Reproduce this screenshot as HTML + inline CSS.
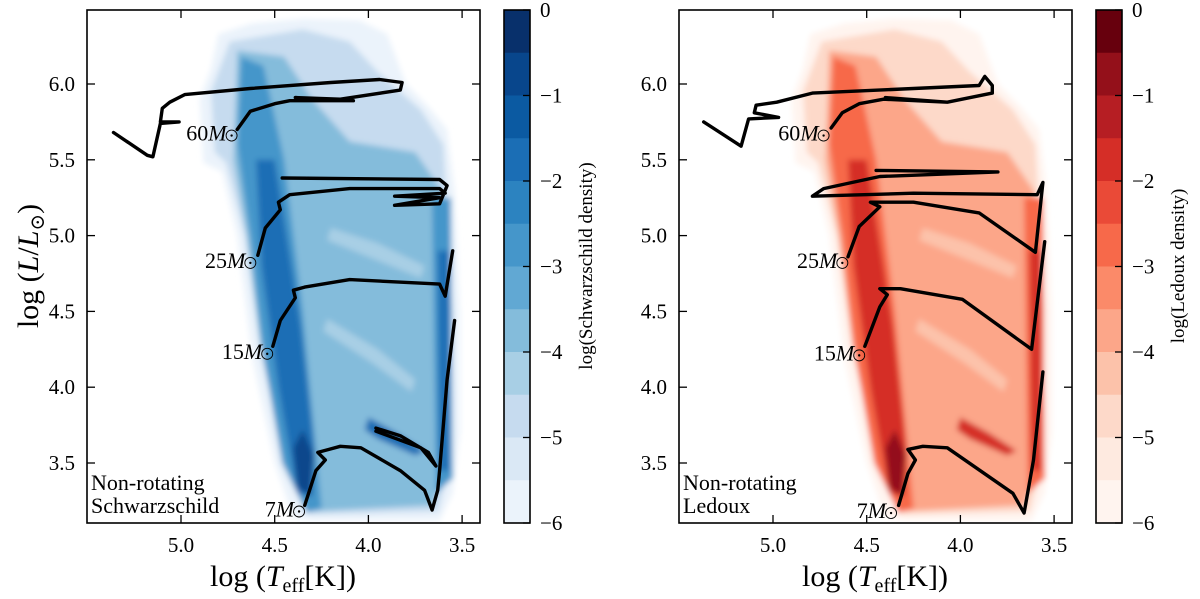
<!DOCTYPE html>
<html><head><meta charset="utf-8"><style>
html,body{margin:0;padding:0;background:#fff;}
svg{display:block;font-family:"Liberation Serif","DejaVu Serif",serif;}
</style></head><body>
<svg id="fig" width="1200" height="599" viewBox="0 0 1200 599" xmlns="http://www.w3.org/2000/svg">
<defs>
<filter id="blur" x="-10%" y="-10%" width="120%" height="120%"><feGaussianBlur stdDeviation="3"/></filter>
<clipPath id="clipL"><rect x="87" y="10" width="393" height="513"/></clipPath>
<clipPath id="clipR"><rect x="679" y="10" width="393" height="513"/></clipPath>
</defs>
</svg>
<script>
// ---- data ----
const xTicks = [5.0, 4.5, 4.0, 3.5];
const xTickLabels = ["5.0", "4.5", "4.0", "3.5"];
const yTicks = [3.5, 4.0, 4.5, 5.0, 5.5, 6.0];
const yTickLabels = ["3.5", "4.0", "4.5", "5.0", "5.5", "6.0"];
const cbTicks = [0, -1, -2, -3, -4, -5, -6];
const cbTickLabels = ["0", "\u22121", "\u22122", "\u22123", "\u22124", "\u22125", "\u22126"];
const blues = ['#08306b','#08468c','#0b5aa2','#1b6eb5','#2c83c0','#4596ca','#61a8d3','#84bcdb','#a8cfe5','#c6dbef','#dae8f5','#ebf3fb'];
const reds = ['#67000d','#94101a','#b61e23','#d52e27','#ea4a37','#f7694a','#fb8a69','#fca689','#fcc2aa','#fdd9c9','#feeae0','#fff4ef'];
// density contour levels (log density) and polygons in (logT, logL)
const contourLevels = [-5.75, -4.75, -3.75, -2.75, -1.75, -0.75, -4.25];
const contour1 = [[4.80,6.33],[4.62,6.40],[4.35,6.43],[4.05,6.42],[3.90,6.33],[3.80,6.00],[3.68,5.85],[3.58,5.70],[3.54,5.30],[3.51,4.50],[3.51,3.70],[3.55,3.30],[3.62,3.12],[4.30,3.12],[4.40,3.14],[4.50,3.50],[4.62,4.20],[4.70,5.00],[4.78,5.42],[4.88,5.48],[4.90,5.90],[4.84,6.10]];
const contour2 = [[4.74,6.28],[4.35,6.36],[4.10,6.28],[3.95,6.08],[3.72,5.83],[3.60,5.60],[3.55,4.50],[3.56,3.50],[3.63,3.18],[4.31,3.16],[4.44,3.50],[4.57,4.20],[4.66,5.00],[4.76,5.48],[4.82,5.55],[4.84,5.95]];
const contour3 = [[4.70,6.22],[4.45,6.18],[4.30,5.90],[4.10,5.62],[3.75,5.55],[3.61,5.30],[3.57,4.50],[3.58,3.50],[3.66,3.22],[4.32,3.18],[4.45,3.60],[4.58,4.30],[4.65,5.00],[4.72,5.50]];
const stripe1 = [[4.20,5.05],[3.95,4.95],[3.70,4.80],[3.72,4.72],[3.98,4.85],[4.22,4.97]];
const stripe2 = [[4.22,4.45],[3.95,4.25],[3.75,4.05],[3.77,3.97],[3.98,4.16],[4.24,4.37]];
const contour4 = [[4.68,6.18],[4.56,6.12],[4.45,5.50],[4.35,4.50],[4.28,3.60],[4.25,3.20],[4.33,3.17],[4.46,3.50],[4.56,4.20],[4.63,5.00],[4.70,5.60]];
const contour4b = [[3.66,5.25],[3.56,5.25],[3.55,3.40],[3.64,3.30]];
const contour5 = [[4.60,5.50],[4.50,5.50],[4.36,4.40],[4.29,3.60],[4.30,3.28],[4.38,3.30],[4.48,4.00],[4.57,4.80]];
const contour5b = [[3.63,4.90],[3.57,4.90],[3.57,3.45],[3.62,3.45]];
const contour5c = [[4.00,3.80],[3.85,3.70],[3.70,3.58],[3.75,3.55],[3.95,3.66],[4.02,3.72]];
const contour6 = [[4.35,3.72],[4.29,3.55],[4.31,3.28],[4.38,3.34],[4.40,3.60]];
// Schwarzschild tracks
const s60 = [[4.70,5.70],[4.63,5.82],[4.50,5.87],[4.42,5.89],[4.08,5.89],[4.39,5.91],[4.15,5.90],[3.83,5.96],[3.82,6.01],[3.94,6.03],[4.20,6.01],[4.63,5.97],[4.98,5.93],[5.06,5.88],[5.10,5.84],[5.11,5.75],[5.01,5.75],[5.11,5.74],[5.15,5.52],[5.18,5.53],[5.36,5.68]];
const s25 = [[4.59,4.87],[4.55,5.05],[4.47,5.17],[4.48,5.22],[4.42,5.27],[4.10,5.31],[3.62,5.31],[3.59,5.28],[3.86,5.26],[3.62,5.25],[3.86,5.20],[3.62,5.21],[3.58,5.33],[3.62,5.37],[4.46,5.38]];
const s15 = [[4.51,4.27],[4.47,4.44],[4.39,4.59],[4.40,4.64],[4.34,4.66],[4.10,4.71],[3.62,4.68],[3.59,4.60],[3.55,4.90]];
const s7 = [[4.34,3.22],[4.28,3.45],[4.23,3.52],[4.27,3.57],[4.21,3.59],[4.15,3.61],[4.04,3.60],[3.83,3.45],[3.70,3.32],[3.66,3.19],[3.63,3.32],[3.62,3.45],[3.58,4.05],[3.54,4.44]];
const s7loop = [[3.96,3.73],[3.83,3.68],[3.68,3.57],[3.64,3.48],[3.72,3.60],[3.96,3.71]];
// Ledoux tracks
const l60 = [[4.69,5.71],[4.63,5.81],[4.54,5.87],[4.41,5.90],[4.07,5.88],[4.40,5.91],[4.07,5.88],[3.83,5.94],[3.83,5.99],[3.87,6.05],[3.90,5.99],[4.25,5.97],[4.79,5.94],[4.98,5.88],[5.09,5.86],[5.10,5.81],[4.97,5.78],[5.13,5.77],[5.17,5.59],[5.37,5.75]];
const l25 = [[4.60,4.86],[4.54,5.06],[4.43,5.19],[4.48,5.22],[4.25,5.22],[3.90,5.15],[3.60,4.89],[3.56,5.35],[3.59,5.27],[4.25,5.28],[4.79,5.26],[4.73,5.31],[4.43,5.39],[3.80,5.42],[4.45,5.43]];
const l15 = [[4.51,4.27],[4.43,4.53],[4.39,4.61],[4.43,4.65],[4.32,4.65],[3.99,4.58],[3.62,4.25],[3.55,4.96]];
const l7 = [[4.33,3.22],[4.28,3.43],[4.24,3.52],[4.28,3.59],[4.20,3.61],[4.07,3.60],[3.72,3.30],[3.66,3.17],[3.61,3.52],[3.56,4.10]];
const massLabels = ["60", "25", "15", "7"];
const sLabelPos = [[4.73,5.66],[4.63,4.82],[4.54,4.22],[4.37,3.18]];
const lLabelPos = [[4.73,5.66],[4.63,4.82],[4.54,4.21],[4.37,3.17]];

const NS = "http://www.w3.org/2000/svg";
const svg = document.getElementById('fig');
function mk(tag, attrs, parent){const e=document.createElementNS(NS,tag);for(const k in attrs)e.setAttribute(k,attrs[k]);(parent||svg).appendChild(e);return e;}

function panel(ox, cmap, sTracks, labelPos, clipId, cbName, annot2, prefix){
  const X = T => 181 + ox + (5.0 - T) * 187.4;
  const Y = L => 84 + (6.0 - L) * 151.6;
  const cIdx = lv => Math.min(11, Math.max(0, Math.floor(-lv * 2)));
  const g = mk('g', {'clip-path':'url(#'+clipId+')'});
  
  
  const gb = mk('g', {filter:'url(#blur)'}, g);
  const polys = [[contour1,0],[contour2,1],[contour3,2],[stripe1,6],[stripe2,6],[contour4,3],[contour4b,3],[contour5,4],[contour5b,4],[contour5c,4],[contour6,5]];
  polys.forEach(([pts, li]) => {
    const p = mk('polygon', {points: pts.map(q => X(q[0]).toFixed(1)+','+Y(q[1]).toFixed(1)).join(' '), fill: cmap[cIdx(contourLevels[li])]}, gb);
    
    
  });
  sTracks.forEach((tr, i) => {
    const p = mk('polyline', {points: tr.map(q => X(q[0]).toFixed(1)+','+Y(q[1]).toFixed(1)).join(' '), fill:'none', stroke:'#000', 'stroke-width':3.4, 'stroke-linejoin':'round', 'stroke-linecap':'round'}, g);
    
    
  });
  labelPos.forEach((q, i) => {
    const cx = X(q[0]), cy = Y(q[1]);
    const c = mk('circle', {cx:cx, cy:cy, r:5.5, fill:'none', stroke:'#000', 'stroke-width':0.9});
    
    
    mk('circle', {cx:cx, cy:cy, r:1.2, fill:'#000'});
    const t = mk('text', {x:cx-5, y:cy+5, 'text-anchor':'end', 'font-size':22, fill:'#000'});
    t.innerHTML = massLabels[i] + '<tspan font-style="italic">M</tspan>';
    
    
  });
  const fr = mk('rect', {x:87+ox, y:10, width:393, height:513, fill:'none', stroke:'#000', 'stroke-width':1.6});
  
  
  xTicks.forEach((v, i) => {
    const x = X(v);
    mk('line', {x1:x, y1:523, x2:x, y2:515, stroke:'#000', 'stroke-width':1.3});
    mk('line', {x1:x, y1:10, x2:x, y2:18, stroke:'#000', 'stroke-width':1.3});
    const t = mk('text', {x:x, y:552, 'text-anchor':'middle', 'font-size':21});
    t.textContent = xTickLabels[i];
    
    
  });
  yTicks.forEach((v, i) => {
    const y = Y(v);
    mk('line', {x1:87+ox, y1:y, x2:95+ox, y2:y, stroke:'#000', 'stroke-width':1.3});
    mk('line', {x1:480+ox, y1:y, x2:472+ox, y2:y, stroke:'#000', 'stroke-width':1.3});
    const t = mk('text', {x:75+ox, y:y+7, 'text-anchor':'end', 'font-size':21});
    t.textContent = yTickLabels[i];
    
    
  });
  const xl = mk('text', {x:283+ox, y:586, 'text-anchor':'middle', 'font-size':30});
  xl.innerHTML = 'log (<tspan font-style="italic">T</tspan><tspan font-size="20" dy="6">eff</tspan><tspan dy="-6">[K])</tspan>';
  
  
  const a1 = mk('text', {x:91+ox, y:490, 'font-size':22}); a1.textContent = 'Non-rotating';
  
  
  const a2 = mk('text', {x:91+ox, y:513, 'font-size':22}); a2.textContent = annot2;
  
  
  const cbx = 504 + ox, cbTop = 10, cbH = 513, bandH = cbH / 12;
  cmap.forEach((col, i) => {
    const r = mk('rect', {x:cbx, y:cbTop + i*bandH, width:26, height:bandH+0.5, fill:col});
    
    
  });
  mk('rect', {x:cbx, y:cbTop, width:26, height:cbH, fill:'none', stroke:'#000', 'stroke-width':1.6});
  cbTicks.forEach((v, i) => {
    const y = cbTop + (-v) * (cbH / 6);
    mk('line', {x1:cbx+26, y1:y, x2:cbx+19, y2:y, stroke:'#000', 'stroke-width':1.3});
    const t = mk('text', {x:cbx+36, y:y+7, 'font-size':21});
    t.textContent = cbTickLabels[i];
    
    
  });
  const cl = mk('text', {x:0, y:0, 'text-anchor':'middle', 'font-size':19, transform:'translate('+(cbx+88)+',266) rotate(-90)'});
  cl.textContent = cbName;
  
  
}
panel(0, blues, [s60, s25, s15, s7, s7loop], sLabelPos, 'clipL', 'log(Schwarzschild density)', 'Schwarzschild', 'schwarzschild');
panel(592, reds, [l60, l25, l15, l7], lLabelPos, 'clipR', 'log(Ledoux density)', 'Ledoux', 'ledoux');
const yl = mk('text', {x:0, y:0, 'text-anchor':'middle', 'font-size':30, transform:'translate(38,266) rotate(-90)'});
yl.innerHTML = 'log (<tspan font-style="italic">L</tspan>/<tspan font-style="italic">L</tspan><tspan font-size="20" dy="6">\u2299</tspan><tspan dy="-6">)</tspan>';


</script>
</body></html>
